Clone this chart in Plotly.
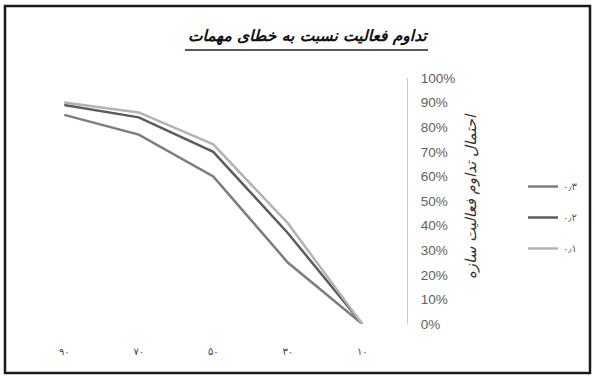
import plotly.graph_objects as go

# Damage-level categories (x axis, Persian digits) and survival probabilities per error level
categories = ["۹۰", "۷۰", "۵۰", "۳۰", "۱۰"]
series_names = ["۰٫۳", "۰٫۲", "۰٫۱"]
values_03 = [0.85, 0.77, 0.60, 0.25, 0.0]
values_02 = [0.89, 0.84, 0.70, 0.37, 0.0]
values_01 = [0.90, 0.86, 0.73, 0.41, 0.0]
y_ticks = [0.0, 0.1, 0.2, 0.3, 0.4, 0.5, 0.6, 0.7, 0.8, 0.9, 1.0]

series_values = [values_03, values_02, values_01]
series_colors = ["#7d7d7d", "#5c5c5c", "#b3b3b3"]

W, H = 595, 378
# plot area in pixels
L, R, T, B = 27, 407, 78, 324
X_RANGE = (-0.5, 4.6)


def px_x(p):
    return (p - L) / (R - L)


def px_y(p):
    return (B - p) / (B - T)


fig = go.Figure()
for name, vals, col in zip(series_names, series_values, series_colors):
    fig.add_trace(go.Scatter(
        x=categories, y=vals, name=name, mode="lines",
        line=dict(color=col, width=2.5),
        legendgroup=name,
    ))

fig.update_layout(
    width=W, height=H,
    margin=dict(l=L, r=W - R, t=T, b=H - B, pad=0),
    paper_bgcolor="white", plot_bgcolor="white",
    showlegend=True,
    legend=dict(
        xref="container", yref="container",
        x=523 / W, y=1 - 172 / H, xanchor="left", yanchor="top",
        traceorder="grouped", tracegroupgap=12,
        font=dict(family="DejaVu Sans", size=10, color="#555555"),
        bgcolor="rgba(0,0,0,0)",
    ),
    xaxis=dict(
        type="category", range=list(X_RANGE),
        showline=False, showgrid=False, zeroline=False, ticks="",
        ticklabelstandoff=20,
        tickfont=dict(family="DejaVu Sans", size=10, color="#444444"),
    ),
    yaxis=dict(
        side="right", range=[0, 1.0], tickvals=y_ticks, tickformat=".0%",
        showline=True, linecolor="#c8c8c8", linewidth=1.2,
        showgrid=False, zeroline=False, ticks="",
        ticklabelstandoff=10,
        tickfont=dict(family="Liberation Sans", size=13.5, color="#606060"),
    ),
    font=dict(family="DejaVu Sans"),
)

# Chart title with underline
fig.add_annotation(
    x=px_x(308), y=px_y(36), xref="paper", yref="paper",
    text="<b><i>تداوم فعالیت نسبت به خطای مهمات</i></b>",
    showarrow=False, xanchor="center", yanchor="middle",
    font=dict(family="DejaVu Sans", size=15.5, color="#111111"),
)
fig.add_shape(type="line", xref="paper", yref="paper",
              x0=px_x(185), x1=px_x(428), y0=px_y(50), y1=px_y(50),
              line=dict(color="#222222", width=1.5))

# Vertical axis title
fig.add_annotation(
    x=px_x(471), y=px_y(196), xref="paper", yref="paper",
    text="<i>احتمال تداوم فعالیت سازه</i>", textangle=-90,
    showarrow=False, xanchor="center", yanchor="middle",
    font=dict(family="DejaVu Sans", size=15, color="#333333"),
)

# Outer frame
fig.add_shape(type="rect", xref="paper", yref="paper",
              x0=px_x(5), x1=px_x(590), y0=px_y(373), y1=px_y(6),
              line=dict(color="#1a1a1a", width=2.5), fillcolor="rgba(0,0,0,0)")

fig.write_html("out.html")
